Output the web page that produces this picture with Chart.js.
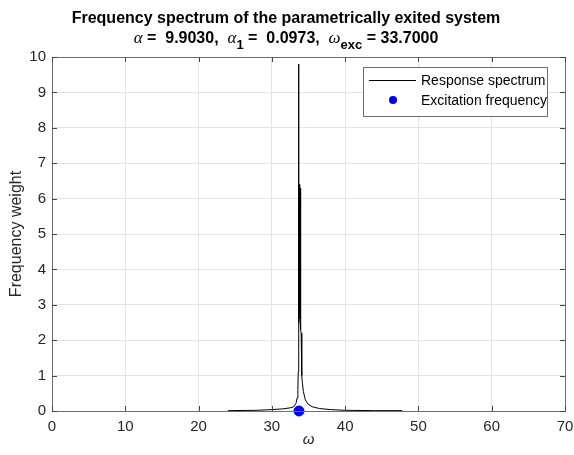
<!DOCTYPE html>
<html>
<head>
<meta charset="utf-8">
<script src="https://cdn.jsdelivr.net/npm/chart.js@4/dist/chart.umd.min.js"></script>
<style>
html,body{margin:0;padding:0;background:#fff;}
#wrap{width:574px;height:455px;}
</style>
</head>
<body>
<div id="wrap"><canvas id="c" width="574" height="455"></canvas></div>
<script>
// ---- data ----
const omega = [24.0, 28.0, 30.0, 31.5, 32.5, 33.0, 33.3, 33.45, 33.55, 33.60, 33.63, 33.66, 33.70, 33.74, 33.78, 33.82, 33.86, 33.90, 33.95, 34.00, 34.06, 34.10, 34.16, 34.3, 34.55, 34.9, 35.5, 36.5, 38.0, 40.0, 44.0, 47.8];
const weight = [0.01, 0.02, 0.04, 0.06, 0.09, 0.12, 0.22, 0.37, 0.6, 1.1, 2.4, 9.8, 2.5, 6.4, 2.6, 6.35, 2.5, 6.3, 2.3, 2.2, 1.9, 1.0, 0.8, 0.55, 0.33, 0.2, 0.12, 0.07, 0.04, 0.02, 0.01, 0.01];
const excOmega = [33.7];
const excWeight = [0];
const xTicks = [0, 10, 20, 30, 40, 50, 60, 70];
const yTicks = [0, 1, 2, 3, 4, 5, 6, 7, 8, 9, 10];
const titleLine1 = "Frequency spectrum of the parametrically exited system";
const legendLabels = ["Response spectrum", "Excitation frequency"];

const spectrum = omega.map((x, i) => ({x: x, y: weight[i]}));
const excitation = excOmega.map((x, i) => ({x: x, y: excWeight[i]}));

const FONT = "'Liberation Sans', Arial, sans-serif";
const SERIF = "'Liberation Serif', 'Times New Roman', serif";
const AXC = '#262626';

const deco = {
  id: 'deco',
  afterDraw(chart) {
    const ctx = chart.ctx;
    const a = chart.chartArea;
    const xs = chart.scales.x, ys = chart.scales.y;
    ctx.save();
    // box
    ctx.strokeStyle = '#6e6e6e';
    ctx.lineWidth = 1;
    ctx.strokeRect(Math.round(a.left) + 0.5, Math.round(a.top) + 0.5, Math.round(a.right - a.left), Math.round(a.bottom - a.top));
    // inward ticks
    ctx.strokeStyle = '#444';
    ctx.beginPath();
    xTicks.forEach(v => {
      const px = Math.round(xs.getPixelForValue(v)) + 0.5;
      ctx.moveTo(px, a.bottom); ctx.lineTo(px, a.bottom - 5);
      ctx.moveTo(px, a.top); ctx.lineTo(px, a.top + 5);
    });
    yTicks.forEach(v => {
      const py = Math.round(ys.getPixelForValue(v)) + 0.5;
      ctx.moveTo(a.left, py); ctx.lineTo(a.left + 5, py);
      ctx.moveTo(a.right, py); ctx.lineTo(a.right - 5, py);
    });
    ctx.stroke();

    // title
    ctx.fillStyle = '#000';
    ctx.textBaseline = 'alphabetic';
    ctx.textAlign = 'center';
    ctx.font = 'bold 16px ' + FONT;
    const cx = 286;
    ctx.fillText(titleLine1, cx, 23);
    // second line with greek and subscripts
    const parts = [
      {t: 'α', f: 'italic 17px ' + SERIF, dy: 0},
      {t: ' =  9.9030,  ', f: 'bold 16px ' + FONT, dy: 0},
      {t: 'α', f: 'italic 17px ' + SERIF, dy: 0},
      {t: '1', f: 'bold 13px ' + FONT, dy: 6},
      {t: ' =  0.0973,  ', f: 'bold 16px ' + FONT, dy: 0},
      {t: 'ω', f: 'italic 17px ' + SERIF, dy: 0},
      {t: 'exc', f: 'bold 13px ' + FONT, dy: 6},
      {t: ' = 33.7000', f: 'bold 16px ' + FONT, dy: 0}
    ];
    ctx.textAlign = 'left';
    let w = 0;
    parts.forEach(p => { ctx.font = p.f; w += ctx.measureText(p.t).width; });
    let px = cx - w / 2;
    parts.forEach(p => { ctx.font = p.f; ctx.fillText(p.t, px, 43 + p.dy); px += ctx.measureText(p.t).width; });

    // legend
    const lx = 363, ly = 67, lw = 184, lh = 49;
    ctx.fillStyle = '#fff';
    ctx.fillRect(lx, ly, lw, lh);
    ctx.strokeStyle = '#6e6e6e';
    ctx.lineWidth = 1;
    ctx.strokeRect(lx + 0.5, ly + 0.5, lw, lh);
    ctx.strokeStyle = '#000';
    ctx.beginPath();
    ctx.moveTo(369, 80.5); ctx.lineTo(416, 80.5);
    ctx.stroke();
    ctx.fillStyle = '#0000ff';
    ctx.beginPath();
    ctx.arc(393, 100, 4, 0, Math.PI * 2);
    ctx.fill();
    ctx.fillStyle = '#000';
    ctx.font = '14px ' + FONT;
    ctx.textBaseline = 'middle';
    ctx.fillText(legendLabels[0], 421, 81);
    ctx.fillText(legendLabels[1], 421, 101);
    ctx.restore();
  }
};

new Chart(document.getElementById('c'), {
  type: 'scatter',
  data: {
    datasets: [
      {
        label: legendLabels[0],
        data: spectrum,
        showLine: true,
        borderColor: '#000',
        borderWidth: 1,
        pointRadius: 0,
        tension: 0,
        order: 2
      },
      {
        label: legendLabels[1],
        data: excitation,
        showLine: false,
        pointStyle: 'circle',
        pointRadius: 5,
        backgroundColor: '#0000ff',
        borderColor: '#0000ff',
        borderWidth: 1,
        clip: false,
        order: 1
      }
    ]
  },
  options: {
    responsive: false,
    animation: false,
    devicePixelRatio: 1,
    layout: {padding: {top: 57, right: 9, left: 0, bottom: 0}},
    plugins: {
      legend: {display: false},
      title: {display: false},
      tooltip: {enabled: false}
    },
    scales: {
      x: {
        type: 'linear',
        min: 0, max: 70,
        afterBuildTicks(s) { s.ticks = xTicks.map(v => ({value: v})); },
        afterFit(s) { s.height = 44; s.paddingRight = 9; s.paddingLeft = 0; },
        ticks: {color: AXC, font: {family: FONT, size: 15}, padding: 7, maxRotation: 0},
        grid: {color: '#e3e3e3', drawTicks: false, tickLength: 0},
        border: {display: false},
        title: {display: true, text: 'ω', color: AXC, font: {family: FONT, size: 15, style: 'italic'}, padding: {top: 2, bottom: 6}}
      },
      y: {
        type: 'linear',
        min: 0, max: 10,
        afterBuildTicks(s) { s.ticks = yTicks.map(v => ({value: v})); },
        afterFit(s) { s.width = 52; },
        ticks: {color: AXC, font: {family: FONT, size: 15}, padding: 6},
        grid: {color: '#e3e3e3', drawTicks: false, tickLength: 0},
        border: {display: false},
        title: {display: true, text: 'Frequency weight', color: AXC, font: {family: FONT, size: 16}, padding: {top: 7, bottom: 4}}
      }
    }
  },
  plugins: [deco]
});
</script>
</body>
</html>
